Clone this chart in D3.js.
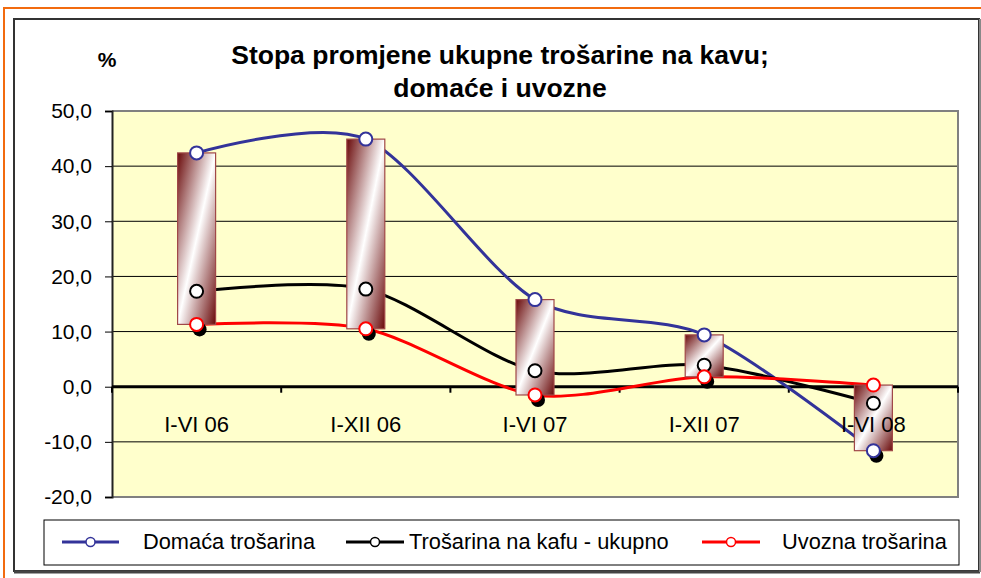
<!DOCTYPE html>
<html><head><meta charset="utf-8">
<script src="https://cdn.jsdelivr.net/npm/d3@7"></script>
<style>html,body{margin:0;padding:0;background:#fff;}svg{display:block;}</style>
</head><body>
<svg id="c" width="981" height="578"></svg>
<script>
const categories = ["I-VI 06","I-XII 06","I-VI 07","I-XII 07","I-VI 08"];
const domaca = [42.4, 44.9, 15.8, 9.4, -11.6];
const ukupno = [17.3, 17.7, 2.9, 3.9, -3.0];
const uvozna = [11.3, 10.5, -1.5, 1.8, 0.3];
const yTicks = [-20,-10,0,10,20,30,40,50];
const seriesNames = ["Domaća trošarina","Trošarina na kafu - ukupno","Uvozna trošarina"];
const seriesColors = ["#333399","#000000","#FF0000"];
const titleLines = ["Stopa promjene ukupne trošarine na kavu;","domaće i uvozne"];

const series = [domaca, ukupno, uvozna].map((v,i)=>({name:seriesNames[i],color:seriesColors[i],values:v}));
const svg = d3.select("#c");
const font = "'Liberation Sans', Arial, sans-serif";

// outer frames
svg.append("line").attr("x1",3).attr("x2",981).attr("y1",8).attr("y2",8).attr("stroke","#f26b0f").attr("stroke-width",2);
svg.append("line").attr("x1",4).attr("x2",4).attr("y1",7).attr("y2",578).attr("stroke","#f26b0f").attr("stroke-width",2);
svg.append("rect").attr("x",14).attr("y",19).attr("width",965).attr("height",552).attr("fill","#fff").attr("stroke","#333").attr("stroke-width",2);
svg.append("line").attr("x1",14).attr("x2",980).attr("y1",572).attr("y2",572).attr("stroke","#444").attr("stroke-width",3);
svg.append("line").attr("x1",980).attr("x2",980).attr("y1",19).attr("y2",572).attr("stroke","#888").attr("stroke-width",2);

const L=112,R=958,T=111,B=497;
const x = d3.scaleBand().domain(categories).range([L,R]);
const y = d3.scaleLinear().domain([-20,50]).range([B,T]);
const cx = c => x(c)+x.bandwidth()/2;
const loc = d3.formatLocale({decimal:",",thousands:".",grouping:[3],currency:["",""],minus:"-"});
const fmt = loc.format(".1f");

// plot area
svg.append("rect").attr("x",L).attr("y",T).attr("width",R-L).attr("height",B-T).attr("fill","#FFFFCC");
// gridlines
svg.append("g").selectAll("line").data(yTicks.filter(t=>t!==0 && t!==50 && t!==-20)).join("line")
  .attr("x1",L).attr("x2",R).attr("y1",d=>y(d)).attr("y2",d=>y(d)).attr("stroke","#000").attr("stroke-width",1);
// plot border top/right/bottom
svg.append("path").attr("d",`M${L},${T}H${R}V${B}H${L}`).attr("fill","none").attr("stroke","#808080").attr("stroke-width",2);

// y axis
const yAxis = d3.axisLeft(y).tickValues(yTicks).tickFormat(fmt).tickSize(7).tickPadding(13);
const ya = svg.append("g").attr("transform",`translate(${L},0)`).call(yAxis);
ya.select(".domain").attr("stroke","#222").attr("stroke-width",2);
ya.selectAll(".tick line").attr("stroke","#000");
ya.selectAll("text").attr("font-family",font).attr("font-size",21).attr("fill","#000");

// zero line and x ticks
svg.append("line").attr("x1",L).attr("x2",R).attr("y1",y(0)).attr("y2",y(0)).attr("stroke","#000").attr("stroke-width",3);
const bounds = categories.map(c=>x(c)).concat([R]);
svg.append("g").selectAll("line").data(bounds).join("line")
  .attr("x1",d=>d).attr("x2",d=>d).attr("y1",y(0)).attr("y2",y(0)+6).attr("stroke","#000").attr("stroke-width",2);

// lines
const line = d3.line().x((d,i)=>cx(categories[i])).y(d=>y(d)).curve(d3.curveCardinal.tension(0.15));
svg.append("g").selectAll("path").data(series).join("path")
  .attr("d",s=>line(s.values)).attr("fill","none").attr("stroke",s=>s.color).attr("stroke-width",3).attr("stroke-linejoin","round");

// up-down bars (between first and last series)
const defs = svg.append("defs");
const g = defs.append("linearGradient").attr("id","bar").attr("x1",0).attr("y1",0).attr("x2",1).attr("y2",1);
g.append("stop").attr("offset","0").attr("stop-color","#6a0a0a");
g.append("stop").attr("offset","0.5").attr("stop-color","#ffffff");
g.append("stop").attr("offset","1").attr("stop-color","#6a0a0a");
const bw = 38;
svg.append("g").selectAll("rect").data(categories).join("rect")
  .attr("x",c=>cx(c)-bw/2)
  .attr("y",(c,i)=>y(Math.max(domaca[i],uvozna[i])))
  .attr("width",bw)
  .attr("height",(c,i)=>Math.abs(y(domaca[i])-y(uvozna[i])))
  .attr("fill","url(#bar)").attr("stroke","#a04848").attr("stroke-width",1.2);

// category labels
svg.append("g").selectAll("text").data(categories).join("text")
  .attr("x",c=>cx(c)).attr("y",y(0)+45).attr("text-anchor","middle")
  .attr("font-family",font).attr("font-size",22).text(c=>c);

// marker shadows under the lowest marker per category
const lows = categories.map((c,i)=>Math.min(domaca[i],ukupno[i],uvozna[i]));
svg.append("g").selectAll("circle").data(lows).join("circle")
  .attr("cx",(d,i)=>cx(categories[i])+3).attr("cy",d=>y(d)+5).attr("r",7).attr("fill","#000");

// markers
series.forEach(s=>{
  svg.append("g").selectAll("circle").data(s.values).join("circle")
    .attr("cx",(d,i)=>cx(categories[i])).attr("cy",d=>y(d)).attr("r",6.5)
    .attr("fill","#fff").attr("stroke",s.color).attr("stroke-width",2);
});

// title
svg.append("text").attr("x",107).attr("y",67).attr("text-anchor","middle").attr("font-family",font)
  .attr("font-weight","bold").attr("font-size",21).text("%");
svg.selectAll("text.title").data(titleLines).join("text").attr("class","title")
  .attr("x",500).attr("y",(d,i)=>64+i*33).attr("text-anchor","middle").attr("font-family",font)
  .attr("font-weight","bold").attr("font-size",26.5).text(d=>d);

// legend
svg.append("rect").attr("x",44).attr("y",520).attr("width",915).attr("height",45).attr("fill","#fff").attr("stroke","#000").attr("stroke-width",1);
const legX = [[62,119,143],[346,404,409],[702,760,782]];
const lg = svg.append("g").selectAll("g").data(series).join("g");
lg.append("line").attr("x1",(d,i)=>legX[i][0]).attr("x2",(d,i)=>legX[i][1]).attr("y1",542).attr("y2",542)
  .attr("stroke",d=>d.color).attr("stroke-width",3);
lg.append("circle").attr("cx",(d,i)=>(legX[i][0]+legX[i][1])/2).attr("cy",542).attr("r",4.5)
  .attr("fill","#fff").attr("stroke",d=>d.color).attr("stroke-width",1.5);
lg.append("text").attr("x",(d,i)=>legX[i][2]).attr("y",549).attr("font-family",font).attr("font-size",21.8).text(d=>d.name);
</script>
</body></html>
